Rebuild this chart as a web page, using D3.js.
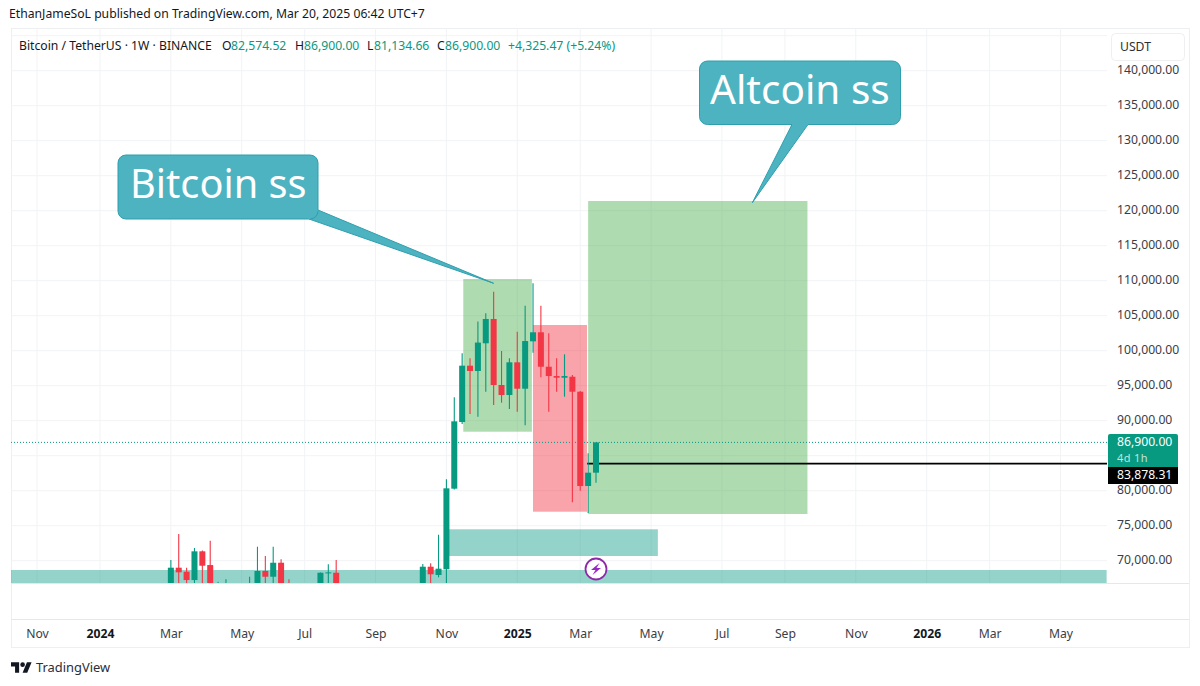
<!DOCTYPE html>
<html>
<head>
<meta charset="utf-8">
<script src="https://cdn.jsdelivr.net/npm/d3@7/dist/d3.min.js"></script>
<style>
  html, body { margin: 0; padding: 0; background: #fff; }
  text { font-family: "Noto Sans", sans-serif; }
</style>
</head>
<body>
<div id="chart"></div>
<script>
// weekly candles, hidden ones under the pane edge are left out
var weeks = ["2024-03-04","2024-03-11","2024-03-18","2024-03-25","2024-04-01","2024-04-08","2024-04-15","2024-04-22","2024-05-13","2024-05-20","2024-05-27","2024-06-03","2024-06-10","2024-06-17","2024-07-15","2024-07-22","2024-07-29","2024-10-14","2024-10-21","2024-10-28","2024-11-04","2024-11-11","2024-11-18","2024-11-25","2024-12-02","2024-12-09","2024-12-16","2024-12-23","2024-12-30","2025-01-06","2025-01-13","2025-01-20","2025-01-27","2025-02-03","2025-02-10","2025-02-17","2025-02-24","2025-03-03","2025-03-10","2025-03-17"];
var opens = [62000,69000,68430,67240,71340,69380,63000,63500,61000,66400,68530,67710,69710,66400,60800,68280,68280,62800,69140,67960,68770,80290,89810,97860,97100,101060,104530,95100,93670,98340,94570,101340,102630,97710,96380,96140,96280,94140,80670,82574.52];
var highs = [70100,73810,69000,71810,71470,72860,67000,67340,67710,72000,70670,72000,70200,67340,68300,69480,70100,69530,69630,73710,81630,93340,99630,98910,104160,105340,108430,99960,98910,102710,106430,109630,106430,102480,98910,99480,96530,94240,85340,86900];
var lows = [60000,64500,60800,66000,64500,60000,59000,59000,60800,66000,66300,66200,65000,60000,60800,63400,58000,62000,65500,67630,66800,80170,89530,90960,90570,94140,92240,92570,91670,91280,89340,99710,96200,91280,94140,93430,78340,80000,76810,81134.66];
var closes = [69000,68340,67240,71340,69280,65700,64000,64500,65000,68530,67710,69710,66000,64000,68280,68330,58000,69140,68060,68860,80340,89910,97860,97100,101160,104530,95100,93670,98340,94570,101380,102630,97710,96380,96140,96380,94140,80670,82574.52,86900];

// price axis, 85,000 sits behind the price tag in the picture
var priceTicks = [140000,135000,130000,125000,120000,115000,110000,105000,100000,95000,90000,80000,75000,70000];
var gridPrices = d3.range(70000, 150000, 5000);
var lastPrice = 86900;
var linePrice = 83878.31;
var lineStart = "2025-03-09";

// time axis
var timeTicks = ["2023-11-06","2024-01-01","2024-03-04","2024-05-06","2024-07-01","2024-09-02","2024-11-04","2025-01-06","2025-03-03","2025-05-05","2025-07-07","2025-09-01","2025-11-03","2026-01-05","2026-03-02","2026-05-04"];
var timeLabels = ["Nov","2024","Mar","May","Jul","Sep","Nov","2025","Mar","May","Jul","Sep","Nov","2026","Mar","May"];

// drawn boxes: start date, end date, top price, bottom price
var zoneStarts = ["2023-09-01","2024-11-04","2024-11-19","2025-01-20","2025-03-10"];
var zoneEnds = ["2026-06-14","2025-05-11","2025-01-19","2025-03-09","2025-09-21"];
var zoneTops = [68671,74486,110243,103671,121386];
var zoneBottoms = [66814,70671,88429,77000,76671];
var zoneKinds = ["teal","teal","green","red","green"];

// callouts
var calloutTexts = ["Bitcoin ss","Altcoin ss"];
var calloutTipDates = ["2024-12-16","2025-08-03"];
var calloutTipPrices = [109630,121140];

var legendParts = ["O","82,574.52","H","86,900.00","L","81,134.66","C","86,900.00","+4,325.47 (+5.24%)"];

var svgWidth = 1200;
var svgHeight = 686;
var pane = { left: 11, right: 1107, top: 28, bottom: 583 };
var upColor = "#089981";
var downColor = "#f23645";
var zoneColors = { teal: "rgba(8,153,129,0.43)", green: "rgba(76,175,80,0.45)", red: "rgba(242,54,69,0.46)" };
var textColor = "#3a3d45";
var fontSize = 12.2;

var parseDay = d3.utcParse("%Y-%m-%d");

var svg = d3.select("#chart")
    .append("svg")
    .attr("width", svgWidth)
    .attr("height", svgHeight)
    .style("display", "block");

var xScale = d3.scaleUtc()
    .domain([parseDay("2024-01-01"), parseDay("2025-03-17")])
    .range([100, 596]);

var yScale = d3.scaleLinear()
    .domain([70000, 140000])
    .range([560.7, 70.7]);

svg.append("clipPath")
    .attr("id", "pane-clip")
    .append("rect")
    .attr("x", pane.left)
    .attr("y", pane.top)
    .attr("width", pane.right - pane.left)
    .attr("height", pane.bottom - pane.top);

// frame and pane dividers
svg.append("rect")
    .attr("x", 11.5)
    .attr("y", 28.5)
    .attr("width", 1178)
    .attr("height", 619)
    .attr("fill", "none")
    .attr("stroke", "#eeeff1");

[583.5, 619.5].forEach(function(y) {
    svg.append("line")
        .attr("x1", 11)
        .attr("x2", 1189)
        .attr("y1", y)
        .attr("y2", y)
        .attr("stroke", "#e6e7ea");
});

var chartGroup = svg.append("g").attr("clip-path", "url(#pane-clip)");

// grid
chartGroup.selectAll(".grid-h")
    .data(gridPrices)
    .enter()
    .append("line")
    .attr("class", "grid-h")
    .attr("x1", pane.left)
    .attr("x2", pane.right)
    .attr("y1", d => yScale(d))
    .attr("y2", d => yScale(d))
    .attr("stroke", "#f2f3f5");

chartGroup.selectAll(".grid-v")
    .data(timeTicks)
    .enter()
    .append("line")
    .attr("class", "grid-v")
    .attr("x1", d => xScale(parseDay(d)))
    .attr("x2", d => xScale(parseDay(d)))
    .attr("y1", pane.top)
    .attr("y2", pane.bottom)
    .attr("stroke", "#f2f3f5");

// zones
chartGroup.selectAll(".zone")
    .data(zoneStarts)
    .enter()
    .append("rect")
    .attr("class", "zone")
    .attr("x", d => xScale(parseDay(d)))
    .attr("y", (d, i) => yScale(zoneTops[i]))
    .attr("width", (d, i) => xScale(parseDay(zoneEnds[i])) - xScale(parseDay(d)))
    .attr("height", (d, i) => yScale(zoneBottoms[i]) - yScale(zoneTops[i]))
    .attr("fill", (d, i) => zoneColors[zoneKinds[i]]);

// last price and horizontal ray
chartGroup.append("line")
    .attr("x1", pane.left)
    .attr("x2", pane.right)
    .attr("y1", yScale(lastPrice))
    .attr("y2", yScale(lastPrice))
    .attr("stroke", upColor)
    .attr("stroke-dasharray", "1 2");

chartGroup.append("line")
    .attr("x1", xScale(parseDay(lineStart)))
    .attr("x2", pane.right)
    .attr("y1", yScale(linePrice))
    .attr("y2", yScale(linePrice))
    .attr("stroke", "#000")
    .attr("stroke-width", 1.8);

// candles
var candleColor = function(i) {
    return closes[i] >= opens[i] ? upColor : downColor;
};

chartGroup.selectAll(".wick")
    .data(weeks)
    .enter()
    .append("line")
    .attr("class", "wick")
    .attr("x1", d => xScale(parseDay(d)))
    .attr("x2", d => xScale(parseDay(d)))
    .attr("y1", (d, i) => yScale(highs[i]))
    .attr("y2", (d, i) => yScale(lows[i]))
    .attr("stroke", (d, i) => candleColor(i))
    .attr("stroke-width", 1.1);

chartGroup.selectAll(".body")
    .data(weeks)
    .enter()
    .append("rect")
    .attr("class", "body")
    .attr("x", d => xScale(parseDay(d)) - 3)
    .attr("width", 6)
    .attr("y", (d, i) => yScale(Math.max(opens[i], closes[i])))
    .attr("height", (d, i) => Math.max(1, Math.abs(yScale(opens[i]) - yScale(closes[i]))))
    .attr("fill", (d, i) => candleColor(i));

// callouts, boxes sit where the picture has them and tails point at the price
var calloutBoxes = [
    { x: 118, y: 155, w: 200, h: 64, textX: 130, baseY: 198, size: 39.7, tailA: [318, 210], tailB: [309, 219] },
    { x: 699.5, y: 61, w: 201, h: 63.5, textX: 710, baseY: 104, size: 40.5, tailA: [808, 124.5], tailB: [792, 124.5] }
];

calloutBoxes.forEach(function(box, i) {
    var tipX = xScale(parseDay(calloutTipDates[i]));
    var tipY = yScale(calloutTipPrices[i]);
    var group = svg.append("g");
    group.append("path")
        .attr("d", d3.line()([box.tailA, [tipX, tipY], box.tailB]))
        .attr("fill", "#4db3c1")
        .attr("stroke", "#2e9fae")
        .attr("stroke-linejoin", "round")
        .attr("stroke-width", 1);
    group.append("rect")
        .attr("x", box.x)
        .attr("y", box.y)
        .attr("width", box.w)
        .attr("height", box.h)
        .attr("rx", 8)
        .attr("fill", "#4db3c1")
        .attr("stroke", "#2e9fae")
        .attr("stroke-width", 1);
    // hide the seam between box and tail
    group.append("path")
        .attr("d", d3.line()([box.tailA, box.tailB]))
        .attr("stroke", "#4db3c1")
        .attr("stroke-width", 1.5);
    group.append("text")
        .attr("x", box.textX)
        .attr("y", box.baseY)
        .attr("font-size", box.size)
        .attr("fill", "#fff")
        .text(calloutTexts[i]);
});

// lightning marker on the last candle
var boltX = xScale(parseDay("2025-03-17"));
var boltGroup = svg.append("g").attr("transform", `translate(${boltX}, 569)`);
boltGroup.append("circle")
    .attr("r", 10.5)
    .attr("fill", "#fff")
    .attr("stroke", "#8e2aa8")
    .attr("stroke-width", 1.8);
boltGroup.append("path")
    .attr("d", "M3.5 -6 L-5 1 L-0.5 1 L-3.5 6 L5 -1 L0.5 -1 Z")
    .attr("fill", "#9c27c8");

// price axis
var rightAxis = d3.axisRight(yScale)
    .tickValues(priceTicks)
    .tickFormat(d3.format(",.2f"))
    .tickSize(0)
    .tickPadding(0);

var priceAxisGroup = svg.append("g")
    .attr("transform", "translate(1117, 0)")
    .call(rightAxis);
priceAxisGroup.select(".domain").remove();
priceAxisGroup.selectAll("text")
    .attr("font-size", fontSize)
    .attr("fill", textColor)
    .attr("dy", "0.22em")
    .style("font-family", "'Noto Sans', sans-serif");

// time axis
var bottomAxis = d3.axisBottom(xScale)
    .tickValues(timeTicks.map(parseDay))
    .tickFormat((d, i) => timeLabels[i])
    .tickSize(0)
    .tickPadding(0);

var timeAxisGroup = svg.append("g")
    .attr("transform", "translate(0, 629)")
    .call(bottomAxis);
timeAxisGroup.select(".domain").remove();
timeAxisGroup.selectAll("text")
    .attr("font-size", fontSize)
    .attr("fill", (d, i) => timeLabels[i].length === 4 ? "#131722" : textColor)
    .attr("font-weight", (d, i) => timeLabels[i].length === 4 ? "bold" : "normal")
    .style("font-family", "'Noto Sans', sans-serif");

// price labels on the right
svg.append("path")
    .attr("d", "M1108 467 V436 a2 2 0 0 1 2 -2 H1176 a2 2 0 0 1 2 2 V467 Z")
    .attr("fill", upColor);
svg.append("rect")
    .attr("x", 1108)
    .attr("y", 467)
    .attr("width", 70)
    .attr("height", 17)
    .attr("fill", "#000");
svg.append("text")
    .attr("x", 1117)
    .attr("y", 446)
    .attr("font-size", fontSize)
    .attr("fill", "#fff")
    .text(d3.format(",.2f")(lastPrice));
svg.append("text")
    .attr("x", 1117)
    .attr("y", 461.5)
    .attr("font-size", 11)
    .attr("letter-spacing", 0.4)
    .attr("fill", "#bfe6de")
    .text("4d 1h");
svg.append("text")
    .attr("x", 1117)
    .attr("y", 478.5)
    .attr("font-size", fontSize)
    .attr("fill", "#fff")
    .text(d3.format(",.2f")(linePrice));

// USDT button
svg.append("rect")
    .attr("x", 1111.5)
    .attr("y", 33.5)
    .attr("width", 73)
    .attr("height", 27)
    .attr("rx", 4)
    .attr("fill", "#fff")
    .attr("stroke", "#eeeff1");
svg.append("text")
    .attr("x", 1120)
    .attr("y", 51)
    .attr("font-size", fontSize)
    .attr("fill", "#2a2e39")
    .text("USDT");

// header and legend
svg.append("text")
    .attr("x", 9)
    .attr("y", 18)
    .attr("font-size", fontSize)
    .attr("fill", "#131722")
    .text("EthanJameSoL published on TradingView.com, Mar 20, 2025 06:42 UTC+7");

svg.append("text")
    .attr("x", 19)
    .attr("y", 50)
    .attr("font-size", fontSize)
    .attr("fill", "#131722")
    .text("Bitcoin / TetherUS · 1W · BINANCE");

var legendX = [222, 231, 295, 304, 367, 374, 437, 445, 508];
legendParts.forEach(function(part, i) {
    var isValue = i % 2 === 1 || i === 8;
    svg.append("text")
        .attr("x", legendX[i])
        .attr("y", 50)
        .attr("font-size", fontSize)
        .attr("fill", isValue ? upColor : "#131722")
        .text(part);
});

// TradingView mark
var logoGroup = svg.append("g").attr("transform", "translate(11, 660) scale(0.58)");
logoGroup.append("path")
    .attr("d", "M14 22H7V11H0V4h14v18zM28 22h-8l7.5-18h8L28 22z")
    .attr("fill", "#131722");
logoGroup.append("circle")
    .attr("cx", 20)
    .attr("cy", 8)
    .attr("r", 4)
    .attr("fill", "#131722");
svg.append("text")
    .attr("x", 36)
    .attr("y", 672)
    .attr("font-size", 12.9)
    .attr("fill", "#2a2e39")
    .text("TradingView");
</script>
</body>
</html>
